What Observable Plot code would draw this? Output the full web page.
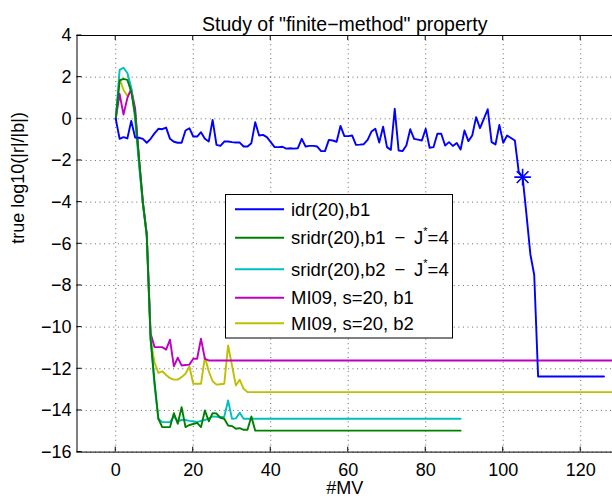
<!DOCTYPE html>
<html>
<head>
<meta charset="utf-8">
<script src="https://cdn.jsdelivr.net/npm/d3@7"></script>
<script src="https://cdn.jsdelivr.net/npm/@observablehq/plot@0.6"></script>
<style>
  html, body { margin: 0; padding: 0; background: white; }
  #chart { width: 612px; height: 500px; }
</style>
</head>
<body>
<div id="chart"></div>
<script>
const titleText = 'Study of "finite\u2212method" property';
const xLabel = "#MV";
const yLabel = "true log10(|r|/|b|)";
const xTicks = [0, 20, 40, 60, 80, 100, 120];
const yTicks = [-16, -14, -12, -10, -8, -6, -4, -2, 0, 2, 4];

const seriesNames = ["idr(20),b1", "sridr(20),b1 \u2212 J*=4", "sridr(20),b2 \u2212 J*=4", "MI09, s=20, b1", "MI09, s=20, b2"];
const seriesColors = ["#0000ff", "#008000", "#00bfbf", "#bf00bf", "#bfbf00"];

// idr(20),b1 : values at MV = 0,1,2,...,109 then final point
const idrVal = [0, -0.96, -0.88, -0.94, -0.1, -0.9, -0.91, -0.96, -1.15, -0.96,
  -0.7, -0.48, -0.5, -0.42, -0.96, -1.1, -1.15, -1.15, -0.56, -0.45,
  -0.85, -0.85, -0.64, -0.96, -1.09, -0.05, -1.25, -1.3, -1.09, -1.09,
  -1.12, -1.14, -1.14, -1.33, -1.33, -1.17, -0.16, -0.8, -0.77, -0.88,
  -1.12, -1.36, -1.36, -1.34, -1.43, -1.41, -1.43, -1.41, -0.96, -1.33,
  -1.3, -1.3, -1.33, -1.55, -1.55, -1.01, -1.04, -1.1, -0.34, -0.83,
  -0.83, -0.8, -1.25, -1.24, -1.22, -1.01, -0.61, -0.48, -1.14, -0.38,
  -1.36, -1.49, 0.48, -1.52, -1.55, -1.28, -0.5, -0.96, -1.0, -1.04,
  -0.48, -1.39, -1.36, -0.72, -0.72, -1.28, -1.12, -1.3, -1.16, -1.47,
  -0.56, -1.07, -0.8, 0.08, -0.45, 0.0, 0.46, -1.12, -1.23, -0.29,
  -1.15, -0.8, -0.92, -1.04, -2.55, -2.8, -4.6, -6.5, -7.5, -12.37];
const idrEndMV = 126, idrEndVal = -12.37;
const idrMarkMV = 105, idrMarkVal = -2.8;

// sridr(20),b1 : MV 0..36, then flat to MV 89
const sridrB1Val = [0, 1.84, 1.92, 1.87, 1.3, 0.2, -1.9, -4.0, -5.6, -10.6,
  -12.6, -14.4, -14.8, -14.8, -14.8, -14.13, -14.64, -13.84, -14.8, -14.7,
  -14.65, -14.6, -14.8, -14.0, -14.52, -14.13, -14.15, -14.35, -14.4, -14.72,
  -14.75, -14.88, -14.85, -14.93, -14.93, -14.29, -14.97];
const sridrB1EndMV = 89, sridrB1EndVal = -14.97;

// sridr(20),b2 : MV 0..33, then flat to MV 89
const sridrB2Val = [0, 2.35, 2.45, 2.2, 1.5, 0.0, -2.2, -4.1, -5.6, -10.5,
  -12.8, -14.4, -14.56, -14.56, -14.56, -14.29, -14.52, -14.46, -14.46, -14.5,
  -14.52, -14.56, -14.5, -14.46, -14.38, -14.29, -14.3, -14.32, -14.3, -13.52,
  -14.4, -14.38, -14.11, -14.4];
const sridrB2EndMV = 89, sridrB2EndVal = -14.4;

// MI09, s=20, b1 : MV 0..24, then flat
const mi09B1Val = [0, 1.2, 0.2, 1.0, 1.44, 0.5, -1.9, -4.0, -5.5, -10.3,
  -10.96, -10.96, -10.96, -11.08, -10.6, -11.88, -11.47, -11.84, -11.82, -11.8,
  -11.52, -11.52, -10.56, -11.52, -11.6];
const mi09B1EndMV = 132, mi09B1EndVal = -11.6;

// MI09, s=20, b2 : MV 0..34, then flat
const mi09B2Val = [0, 1.9, 1.4, 1.1, 1.35, 0.4, -2.0, -4.1, -5.6, -10.6,
  -11.7, -12.2, -12.12, -12.3, -12.45, -12.52, -12.52, -12.4, -12.24, -11.89,
  -12.72, -12.72, -12.72, -11.44, -12.12, -12.6, -12.76, -12.74, -12.72, -10.88,
  -11.84, -12.8, -12.53, -12.96, -13.12];
const mi09B2EndMV = 132, mi09B2EndVal = -13.12;

function build(vals, endMV, endVal, name) {
  const rows = vals.map((v, i) => ({mv: i, v, name}));
  rows.push({mv: endMV, v: endVal, name});
  return rows;
}
const series = [
  build(idrVal, idrEndMV, idrEndVal, seriesNames[0]),
  build(sridrB1Val, sridrB1EndMV, sridrB1EndVal, seriesNames[1]),
  build(sridrB2Val, sridrB2EndMV, sridrB2EndVal, seriesNames[2]),
  build(mi09B1Val, mi09B1EndMV, mi09B1EndVal, seriesNames[3]),
  build(mi09B2Val, mi09B2EndMV, mi09B2EndVal, seriesNames[4])
];

const FONT = "'Liberation Sans', Arial, Helvetica, sans-serif";
const FS = 18;
const gridStyle = {stroke: "#000", strokeOpacity: 0.6, strokeDasharray: "1,3.6", strokeWidth: 1};

const lineMarks = [4, 3, 2, 1, 0].map(k =>
  Plot.line(series[k], {x: "mv", y: "v", stroke: seriesColors[k], strokeWidth: 1.9, clip: true}));

const chart = Plot.plot({
  width: 612, height: 500,
  marginLeft: 76.5, marginRight: 0, marginTop: 35, marginBottom: 48.4,
  style: {fontFamily: FONT, fontSize: FS + "px", background: "white", color: "#000"},
  x: {domain: [-10, 128.2]},
  y: {domain: [-16, 4]},
  marks: [
    Plot.gridX(xTicks, gridStyle),
    Plot.gridY(yTicks, gridStyle),
    ...lineMarks,
    Plot.dot([{mv: idrMarkMV, v: idrMarkVal}], {x: "mv", y: "v", symbol: "plus", r: 5.4, stroke: seriesColors[0], strokeWidth: 1.6}),
    Plot.dot([{mv: idrMarkMV, v: idrMarkVal}], {x: "mv", y: "v", symbol: "times", r: 5.4, stroke: seriesColors[0], strokeWidth: 1.6}),
    Plot.ruleY([yTicks[0], yTicks[yTicks.length - 1]], {stroke: "#000", strokeWidth: 1}),
    Plot.ruleX([-10], {stroke: "#000", strokeWidth: 1}),
    Plot.axisX(xTicks, {anchor: "bottom", tickSize: 0, tickPadding: 11, fontSize: FS, label: null}),
    Plot.axisY(yTicks, {anchor: "left", tickSize: 0, tickPadding: 5.5, fontSize: FS, label: null}),
    Plot.text([titleText], {text: d => d, frameAnchor: "top", dy: -18.5, fontSize: 19.5}),
    Plot.text([xLabel], {text: d => d, frameAnchor: "bottom", dy: 42, fontSize: FS}),
    Plot.text([yLabel], {text: d => d, frameAnchor: "left", dx: -59, rotate: -90, fontSize: FS})
  ]
});

document.getElementById("chart").appendChild(chart);

// inward tick marks (box style) using the chart's own scales
const sx = chart.scale("x"), sy = chart.scale("y");
const svg = d3.select(chart);
const yTop = sy.apply(yTicks[yTicks.length - 1]), yBottom = sy.apply(yTicks[0]), xLeft = sx.apply(-10);
const tg = svg.append("g").attr("stroke", "#000").attr("stroke-width", 1);
xTicks.forEach(t => {
  const px = sx.apply(t);
  tg.append("line").attr("x1", px).attr("x2", px).attr("y1", yBottom).attr("y2", yBottom - 5);
  tg.append("line").attr("x1", px).attr("x2", px).attr("y1", yTop).attr("y2", yTop + 5);
});
yTicks.forEach(t => {
  const py = sy.apply(t);
  tg.append("line").attr("x1", xLeft).attr("x2", xLeft + 5).attr("y1", py).attr("y2", py);
});

// legend
const lg = svg.append("g").attr("font-family", FONT).attr("font-size", 18.5).attr("text-anchor", "start");
lg.append("rect").attr("x", 225.5).attr("y", 194.5).attr("width", 227).attr("height", 143.5)
  .attr("fill", "white").attr("stroke", "#000").attr("stroke-width", 1);
const rowY = [209.3, 237.7, 269.3, 297.7, 323.3];
seriesNames.forEach((name, i) => {
  lg.append("line").attr("x1", 235).attr("x2", 284).attr("y1", rowY[i]).attr("y2", rowY[i])
    .attr("stroke", seriesColors[i]).attr("stroke-width", 1.9);
  const t = lg.append("text").attr("x", 291).attr("y", rowY[i] + 6.5).attr("fill", "#000").attr("text-anchor", "start");
  const star = name.indexOf("*");
  if (star < 0) {
    t.text(name);
  } else {
    t.append("tspan").text(name.slice(0, star).replace(" \u2212 ", "\u2009 \u2212 \u2009"));
    t.append("tspan").attr("font-size", 11).attr("dy", -9).text("*");
    t.append("tspan").attr("dy", 9).text(name.slice(star + 1));
  }
});
</script>
</body>
</html>
